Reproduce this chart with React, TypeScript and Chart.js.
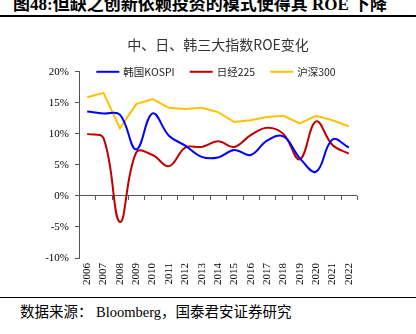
import React, { useEffect, useRef } from "react";
import { Chart, registerables } from "chart.js";

Chart.register(...registerables);

const years = ["2006", "2007", "2008", "2009", "2010", "2011", "2012", "2013", "2014", "2015", "2016", "2017", "2018", "2019", "2020", "2021", "2022"];
const kospi = [13.6, 13.3, 13.1, 7.5, 13.3, 9.7, 8.1, 6.3, 6.2, 7.4, 6.6, 8.9, 9.6, 6.1, 3.9, 9.1, 7.8];
const nikkei = [10.0, 9.3, -4.2, 7.0, 6.6, 4.8, 7.8, 7.9, 8.8, 7.9, 9.8, 11.0, 10.0, 5.9, 12.0, 8.2, 6.8];
const csi300 = [15.9, 16.6, 10.9, 14.8, 15.6, 14.2, 14.0, 14.2, 13.5, 11.9, 12.2, 12.7, 12.9, 11.7, 12.9, 12.2, 11.2];
const seriesNames = ["韩国KOSPI", "日经225", "沪深300"];
const seriesColors = ["#0000FF", "#C00000", "#FFC000"];
const yMin = -10;
const yMax = 20;
const yStep = 5;

const chartTitle = "中、日、韩三大指数ROE变化";
const figTitle = "图48:但缺之创新依赖投资的模式使得其 ROE 下降";
const sourceText = "数据来源： Bloomberg，国泰君安证券研究";

const decorPlugin = {
  id: "decor",
  afterDatasetsDraw(chart: any) {
    const { ctx, scales, chartArea } = chart;
    const x = scales.x;
    const y = scales.y;
    const y0 = y.getPixelForValue(0);
    const n = chart.data.labels.length;
    ctx.save();
    ctx.strokeStyle = "#555";
    ctx.lineWidth = 1;
    for (let i = 0; i <= n; i++) {
      let px: number;
      if (i === 0) px = chartArea.left;
      else if (i === n) px = chartArea.right;
      else px = (x.getPixelForValue(i - 1) + x.getPixelForValue(i)) / 2;
      const rx = Math.round(px) + 0.5;
      ctx.beginPath();
      ctx.moveTo(rx, y0);
      ctx.lineTo(rx, y0 + 4);
      ctx.stroke();
    }
    // legend
    ctx.font = '10.5px "Noto Sans CJK SC", sans-serif';
    ctx.textBaseline = "middle";
    ctx.textAlign = "left";
    const lineLen = 23;
    const gap = 4;
    const between = 15;
    const ds = chart.data.datasets;
    const widths = ds.map((d: any) => lineLen + gap + ctx.measureText(d.label).width);
    const total = widths.reduce((a: number, b: number) => a + b, 0) + between * (ds.length - 1);
    let cx = (chartArea.left + chartArea.right) / 2 - 2 - total / 2;
    const ly = chartArea.top;
    ds.forEach((d: any, i: number) => {
      ctx.strokeStyle = d.borderColor;
      ctx.lineWidth = 2;
      ctx.beginPath();
      ctx.moveTo(cx, ly);
      ctx.lineTo(cx + lineLen, ly);
      ctx.stroke();
      ctx.fillStyle = "#222";
      ctx.fillText(d.label, cx + lineLen + gap, ly);
      cx += widths[i] + between;
    });
    ctx.restore();
  },
};

function ChartBox() {
  const ref = useRef<HTMLCanvasElement | null>(null);
  useEffect(() => {
    if (!ref.current) return;
    const data = [kospi, nikkei, csi300];
    const chart = new Chart(ref.current, {
      type: "line",
      data: {
        labels: years,
        datasets: data.map((vals, i) => ({
          label: seriesNames[i],
          data: vals,
          borderColor: seriesColors[i],
          backgroundColor: seriesColors[i],
          borderWidth: 2,
          pointRadius: 0,
          tension: i === 2 ? 0 : 0.4,
          fill: false,
        })),
      },
      options: {
        responsive: false,
        animation: false,
        devicePixelRatio: 1,
        layout: { padding: { left: 0, right: 59, top: 0, bottom: 0 } },
        plugins: {
          legend: { display: false },
          tooltip: { enabled: false },
          title: {
            display: true,
            text: chartTitle,
            fullSize: false,
            color: "#333",
            font: { family: '"Noto Sans CJK SC", sans-serif', size: 14, weight: "normal" },
            padding: { top: 8, bottom: 19 },
          },
        },
        scales: {
          x: {
            type: "category",
            offset: true,
            grid: { display: false, drawTicks: false },
            border: { display: false },
            ticks: {
              autoSkip: false,
              minRotation: 90,
              maxRotation: 90,
              padding: 5,
              color: "#000",
              font: { family: '"Liberation Serif", serif', size: 11 },
            },
            afterFit: (s: any) => {
              s.height = 32;
            },
          },
          y: {
            min: yMin,
            max: yMax,
            ticks: {
              stepSize: yStep,
              padding: 6,
              color: "#000",
              font: { family: '"Liberation Serif", serif', size: 11 },
              callback: (v: any) => `${v}%`,
            },
            grid: {
              color: (c: any) => (c.tick && c.tick.value === 0 ? "#555" : "rgba(0,0,0,0)"),
              tickColor: "#555",
              tickLength: 4,
              lineWidth: 1,
            },
            border: { display: true, color: "#555", width: 1 },
            afterFit: (s: any) => {
              s.width = 79;
            },
          },
        },
      },
      plugins: [decorPlugin],
    });
    return () => chart.destroy();
  }, []);
  return <canvas ref={ref} width={416} height={262} style={{ display: "block" }} />;
}

export default function App() {
  return (
    <div style={{ position: "absolute", left: 0, top: 0, width: 416, height: 334, background: "#fff", overflow: "hidden" }}>
      <div
        style={{
          position: "absolute",
          left: 13,
          top: -4,
          fontFamily: '"Liberation Serif", "Noto Sans CJK SC", serif',
          fontWeight: "bold",
          fontSize: 17,
          lineHeight: "18px",
          whiteSpace: "nowrap",
          color: "#000",
        }}
      >
        {figTitle}
      </div>
      <div style={{ position: "absolute", left: 0, top: 15, width: 416, height: 1.5, background: "#000" }} />
      <div style={{ position: "absolute", left: 0, top: 28, width: 416, height: 262 }}>
        <ChartBox />
      </div>
      <div style={{ position: "absolute", left: 0, top: 296.5, width: 416, height: 1.5, background: "#000" }} />
      <div
        style={{
          position: "absolute",
          left: 20,
          top: 303,
          fontFamily: '"Liberation Serif", "Noto Sans CJK SC", serif',
          fontSize: 14.5,
          lineHeight: "18px",
          whiteSpace: "nowrap",
          color: "#000",
        }}
      >
        {sourceText}
      </div>
    </div>
  );
}
